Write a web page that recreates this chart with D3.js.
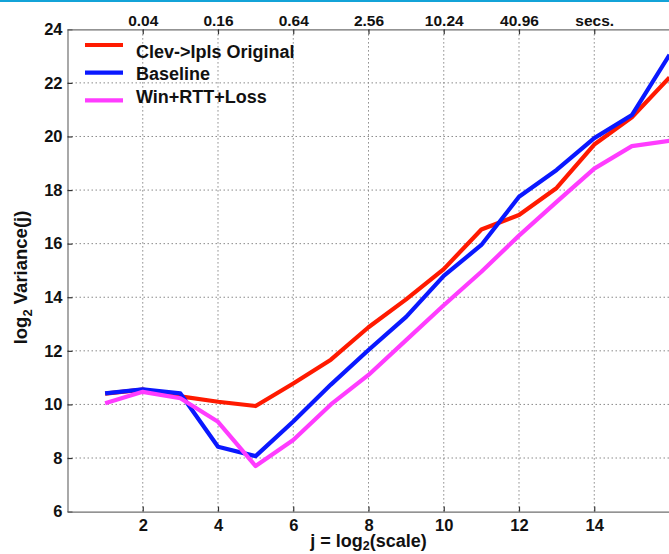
<!DOCTYPE html>
<html>
<head>
<meta charset="utf-8">
<script src="https://cdn.jsdelivr.net/npm/d3@7"></script>
<style>
  html, body { margin: 0; padding: 0; background: #fff; }
  svg { display: block; font-family: "Liberation Sans", Arial, Helvetica, sans-serif; font-weight: bold; }
  .grid line { stroke: #8a8a8a; stroke-width: 1; stroke-dasharray: 1.5 2.5; }
  .axis path { stroke: #6f6f6f; stroke-width: 1.2; }
  .axis line { stroke: #333; stroke-width: 1.2; }
  .axis text { fill: #111; font-weight: bold; }
</style>
</head>
<body>
<script>
// Wavelet scale index j = log2(scale)
const scaleIndex = [1, 2, 3, 4, 5, 6, 7, 8, 9, 10, 11, 12, 13, 14, 15, 16];

// log2 variance per scale for each trace
const clevOriginal = [10.4, 10.55, 10.3, 10.1, 9.94, 10.78, 11.67, 12.88, 13.92, 15.05, 16.53, 17.07, 18.08, 19.7, 20.72, 22.2];
const baseline     = [10.41, 10.56, 10.41, 8.42, 8.07, 9.36, 10.74, 12.03, 13.27, 14.8, 15.95, 17.75, 18.75, 19.94, 20.8, 23.05];
const winRttLoss   = [10.04, 10.47, 10.23, 9.35, 7.7, 8.67, 10.0, 11.1, 12.4, 13.7, 14.95, 16.3, 17.56, 18.8, 19.64, 19.84];

const seriesNames  = ["Clev->Ipls Original", "Baseline", "Win+RTT+Loss"];
const seriesColors = ["#ff1a00", "#0a18ff", "#ff3cff"];

// Axis ticks
const xTicks = [2, 4, 6, 8, 10, 12, 14];
const yTicks = [6, 8, 10, 12, 14, 16, 18, 20, 22, 24];
const yGrid  = [8, 10, 12, 14, 16, 18, 20, 22];
const topTickLabels = ["0.04", "0.16", "0.64", "2.56", "10.24", "40.96", "secs."];

const W = 669, H = 554;
const svg = d3.select("body").append("svg").attr("width", W).attr("height", H);

svg.append("rect").attr("x", 0).attr("y", 0).attr("width", W).attr("height", 2).attr("fill", "#13a3d8");

const x = d3.scaleLinear().domain([0, 16]).range([67.5, 669.5]);
const y = d3.scaleLinear().domain([6, 24]).range([511.6, 29.3]);

// grid
const grid = svg.append("g").attr("class", "grid");
grid.selectAll(".gx").data(xTicks).join("line")
  .attr("x1", d => x(d)).attr("x2", d => x(d))
  .attr("y1", y(6)).attr("y2", y(24));
grid.selectAll(".gy").data(yGrid).join("line")
  .attr("x1", x(0)).attr("x2", x(16))
  .attr("y1", d => y(d)).attr("y2", d => y(d));

// axes
svg.append("g").attr("class", "axis")
  .attr("transform", `translate(${x(0)},0)`)
  .call(d3.axisLeft(y).tickValues(yTicks).tickSizeInner(-5).tickSizeOuter(0).tickPadding(5))
  .selectAll("text").style("font-size", "16.5px");

svg.append("g").attr("class", "axis")
  .attr("transform", `translate(0,${y(6)})`)
  .call(d3.axisBottom(x).tickValues(xTicks).tickSizeInner(-5).tickSizeOuter(0).tickPadding(8))
  .selectAll("text").style("font-size", "16.5px");

svg.append("g").attr("class", "axis")
  .attr("transform", `translate(0,${y(24)})`)
  .call(d3.axisTop(x).tickValues(xTicks).tickSizeInner(-5).tickSizeOuter(0).tickPadding(3)
    .tickFormat((d, i) => topTickLabels[i]))
  .selectAll("text").style("font-size", "15.5px");

// series lines
const seriesData = [clevOriginal, baseline, winRttLoss];
const line = d3.line().x((d, i) => x(scaleIndex[i])).y(d => y(d));
svg.append("g").selectAll("path").data(seriesData).join("path")
  .attr("d", line)
  .attr("fill", "none")
  .attr("stroke", (d, i) => seriesColors[i])
  .attr("stroke-width", 4.2)
  .attr("stroke-linejoin", "round");

// legend
const legendLineY = [45, 72.7, 100.4];
const legendTextY = [58.3, 80.2, 102.6];
const legend = svg.append("g");
seriesNames.forEach((name, i) => {
  legend.append("line")
    .attr("x1", 85).attr("x2", 123)
    .attr("y1", legendLineY[i]).attr("y2", legendLineY[i])
    .attr("stroke", seriesColors[i]).attr("stroke-width", 4.2);
  legend.append("text")
    .attr("x", 136).attr("y", legendTextY[i])
    .style("font-size", "18px").attr("fill", "#111")
    .text(name);
});

// axis titles
const xt = svg.append("text")
  .attr("x", x(8)).attr("y", 547).attr("text-anchor", "middle")
  .style("font-size", "18px").attr("fill", "#111");
xt.append("tspan").text("j = log");
xt.append("tspan").attr("dy", 3).style("font-size", "12.5px").text("2");
xt.append("tspan").attr("dy", -3).text("(scale)");

const yt = svg.append("text")
  .attr("transform", `translate(27,277.5) rotate(-90)`)
  .attr("text-anchor", "middle")
  .style("font-size", "18.5px").attr("fill", "#111");
yt.append("tspan").text("log");
yt.append("tspan").attr("dy", 5).style("font-size", "13px").text("2");
yt.append("tspan").attr("dy", -5).text(" Variance(j)");
</script>
</body>
</html>
